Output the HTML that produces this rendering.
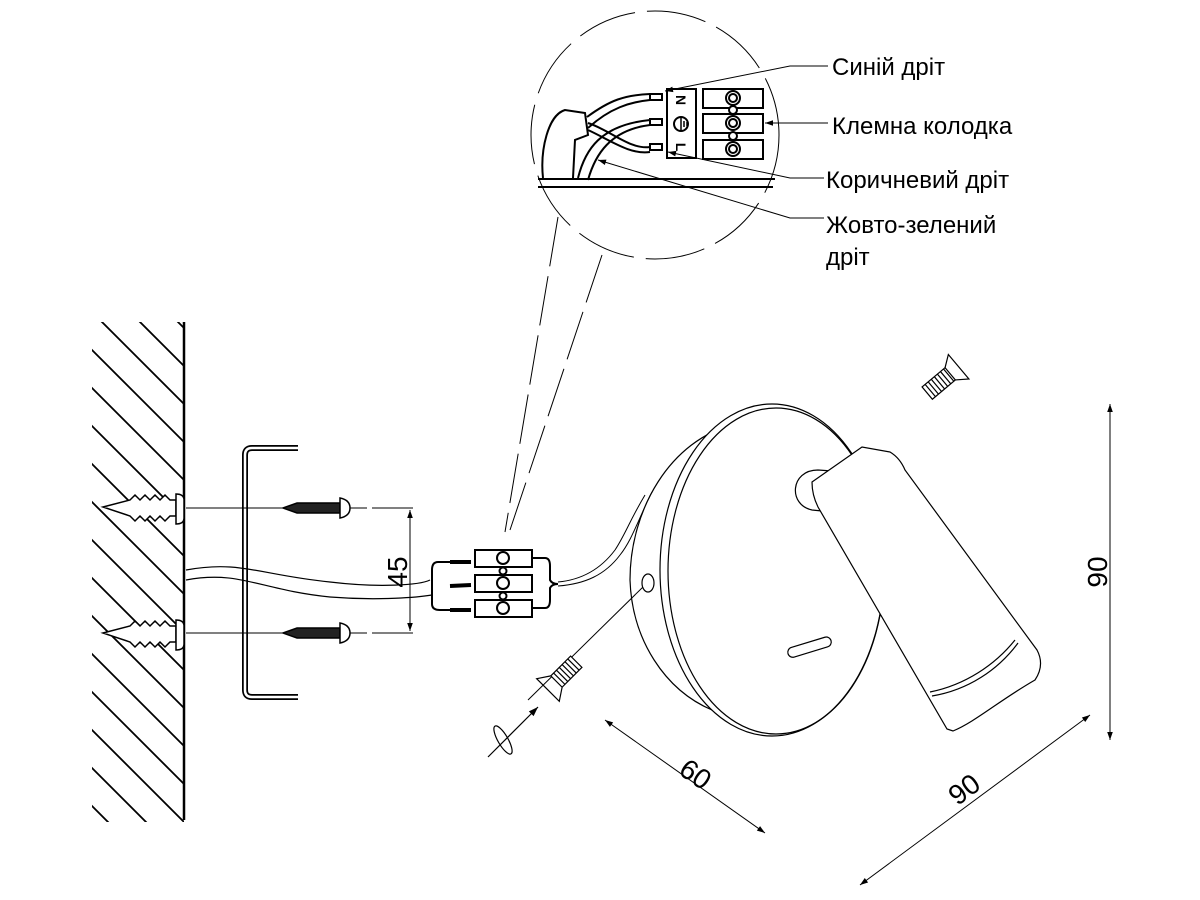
<!DOCTYPE html>
<html><head><meta charset="utf-8"><style>
html,body{margin:0;padding:0;background:#fff;width:1200px;height:900px;overflow:hidden}
svg{display:block}
text{font-family:"Liberation Sans",Arial,sans-serif;fill:#000}
</style></head><body>
<svg width="1200" height="900" viewBox="0 0 1200 900" xmlns="http://www.w3.org/2000/svg">
<defs>
<clipPath id="wall"><rect x="92" y="322" width="92" height="500"/></clipPath>
<marker id="ar" viewBox="0 0 10 10" refX="10" refY="5" markerWidth="10" markerHeight="8" orient="auto-start-reverse"><path d="M0,1.5 L10,5 L0,8.5 Z" fill="#000"/></marker>
</defs>
<g fill="none" stroke="#000">
<g clip-path="url(#wall)" stroke-width="1.8">
<path d="M40,260 L260,480 M40,298 L260,518 M40,336 L260,556 M40,374 L260,594 M40,412 L260,632 M40,450 L260,670 M40,488 L260,708 M40,526 L260,746 M40,564 L260,784 M40,602 L260,822 M40,640 L260,860 M40,678 L260,898 M40,716 L260,936 M40,754 L260,974 M40,222 L260,442 M40,184 L260,404"/>
</g>
<line x1="184" y1="322" x2="184" y2="820" stroke-width="2.5"/>
<g stroke-width="1.5">
<path d="M103,507 L130,500 L135,495 L140,500 L145,495 L150,500 L155,495 L160,500 L165,495 L170,500 L176,500 L176,516 L170,516 L165,521 L160,516 L155,521 L150,516 L145,521 L140,516 L135,521 L130,516 Z" fill="#fff"/>
<path d="M176,494 Q184,494 184,500 L184,518 Q184,524 176,524 Z" fill="#fff"/>
<path d="M103,633 L130,626 L135,621 L140,626 L145,621 L150,626 L155,621 L160,626 L165,621 L170,626 L176,626 L176,642 L170,642 L165,647 L160,642 L155,647 L150,642 L145,647 L140,642 L135,647 L130,642 Z" fill="#fff"/>
<path d="M176,620 Q184,620 184,626 L184,644 Q184,650 176,650 Z" fill="#fff"/>
</g>
<path d="M298,448 L252,448 Q245,448 245,455 L245,690 Q245,697 252,697 L298,697" stroke-width="6"/>
<path d="M298,448 L252,448 Q245,448 245,455 L245,690 Q245,697 252,697 L298,697" stroke="#fff" stroke-width="2.5"/>
<path d="M186,570 C240,560 260,575 330,582 C380,588 420,585 430,580" stroke-width="1.2"/>
<path d="M186,580 C240,570 260,590 330,597 C380,601 420,597 432,595" stroke-width="1.2"/>
<line x1="186" y1="508" x2="367" y2="508" stroke-width="1"/>
<line x1="372" y1="508" x2="413" y2="508" stroke-width="1"/>
<line x1="186" y1="633" x2="367" y2="633" stroke-width="1"/>
<line x1="372" y1="633" x2="413" y2="633" stroke-width="1"/>
<g stroke-width="1.5">
<path d="M283,508 L297,503 L340,503 L340,513 L297,513 Z" fill="#222"/>
<path d="M340,498 Q350,500 350,508 Q350,516 340,518 Z" fill="#fff"/>
<path d="M283,633 L297,628 L340,628 L340,638 L297,638 Z" fill="#222"/>
<path d="M340,623 Q350,625 350,633 Q350,641 340,643 Z" fill="#fff"/>
</g>
<line x1="410" y1="510" x2="410" y2="631" stroke-width="1" marker-start="url(#ar)" marker-end="url(#ar)"/>
<g stroke-width="2">
<rect x="475" y="550" width="57" height="17" fill="#fff"/>
<rect x="475" y="575" width="57" height="17" fill="#fff"/>
<rect x="475" y="600" width="57" height="17" fill="#fff"/>
<circle cx="503" cy="558" r="6" fill="#fff"/><circle cx="503" cy="583" r="6" fill="#fff"/><circle cx="503" cy="608" r="6" fill="#fff"/>
<circle cx="503" cy="571" r="3.5" fill="#fff"/><circle cx="503" cy="596" r="3.5" fill="#fff"/>
<path d="M471,562 L438,562 Q432,562 432,570 L432,604 Q432,610 440,610 L471,610"/>
<line x1="450" y1="562" x2="471" y2="562" stroke-width="4"/>
<line x1="450" y1="586" x2="471" y2="585" stroke-width="4"/>
<line x1="450" y1="610" x2="471" y2="610" stroke-width="4"/>
<path d="M532,558 L545,558 Q550,558 550,566 L550,580 Q552,584 558,584 M532,608 L545,608 Q550,608 550,600 L550,588 Q552,584 558,584"/>
</g>
<path d="M558,582 C580,580 600,570 615,550 C625,535 630,520 645,495 M558,586 C585,584 605,575 620,555 C632,540 638,520 652,492" stroke-width="1"/>
<circle cx="655" cy="135" r="124" stroke-width="1" stroke-dasharray="60 12"/>
<path d="M558,217 L505,532 M602,255 L510,530" stroke-width="1" stroke-dasharray="50 10"/>
<line x1="538" y1="179" x2="775" y2="179" stroke-width="2"/>
<line x1="538" y1="187" x2="773" y2="187" stroke-width="2"/>
<rect x="667" y="89" width="29" height="69" stroke-width="2" fill="#fff"/>
<text x="681" y="100" font-size="14" font-weight="bold" transform="rotate(90 681 100)" text-anchor="middle" dominant-baseline="central" stroke="none">N</text>
<circle cx="681" cy="124" r="7" stroke-width="2"/>
<path d="M681,118 L681,130 M684,121 L684,127 M687,122 L687,126" stroke-width="1.5"/>
<text x="681" y="147" font-size="14" font-weight="bold" transform="rotate(90 681 147)" text-anchor="middle" dominant-baseline="central" stroke="none">L</text>
<g stroke-width="2">
<rect x="703" y="89" width="60" height="19"/><rect x="703" y="114" width="60" height="19"/><rect x="703" y="140" width="60" height="19"/>
<circle cx="733" cy="98" r="7" fill="#fff"/><circle cx="733" cy="123" r="7" fill="#fff"/><circle cx="733" cy="149" r="7" fill="#fff"/>
<circle cx="733" cy="98" r="4"/><circle cx="733" cy="123" r="4"/><circle cx="733" cy="149" r="4"/>
<circle cx="733" cy="110" r="4" fill="#fff"/><circle cx="733" cy="136" r="4" fill="#fff"/>
<rect x="650" y="94" width="12" height="6" fill="#fff"/><rect x="650" y="119" width="12" height="6" fill="#fff"/><rect x="650" y="144" width="12" height="6" fill="#fff"/>
<path d="M543,178 C540,150 548,115 565,110 L585,113 L588,135 L575,140 L573,178"/>
<path d="M587,117 C610,100 625,95 650,94 M588,128 C610,108 630,102 650,100"/>
<path d="M588,123 C610,130 630,150 650,147 M588,130 C610,140 630,155 650,152"/>
<path d="M578,178 C585,150 600,125 650,120 M588,180 C595,155 610,130 650,125"/>
</g>
<g stroke-width="1">
<path d="M828,66 L790,66 L665,91" marker-end="url(#ar)"/>
<path d="M828,123 L765,123" marker-end="url(#ar)"/>
<path d="M824,178 L790,178 L668,152" marker-end="url(#ar)"/>
<path d="M824,218 L790,218 L598,160" marker-end="url(#ar)"/>
</g>
<!-- lamp -->
<g stroke-width="1.2">
<path d="M780,412 C760,414 745,418 735,424 C670,440 630,510 630,580 C632,640 665,690 712,710 L760,720 Z" fill="#fff"/>
<ellipse cx="772" cy="570" rx="112" ry="166" fill="#fff"/>
<ellipse cx="776" cy="571" rx="108" ry="163"/>
<ellipse cx="648" cy="583" rx="6" ry="9"/>
<path d="M643,587 L528,700" stroke-width="1"/>
<rect x="787" y="642" width="45" height="10" rx="5" transform="rotate(-17 810 647)"/>
<path d="M818,470 C790,470 788,505 812,510 M818,470 L832,471 M812,510 L822,511" fill="#fff"/>
<path d="M812,482 L862,447 L890,452 Q900,458 905,470 L1037,650 Q1045,665 1035,680 C1000,700 975,722 953,731 L947,729 L818,507 Q812,495 812,482 Z" fill="#fff"/>
<path d="M930,692 C965,685 995,665 1015,640 M932,696 C968,690 998,670 1018,643"/>
</g>
<g stroke-width="1.2" transform="rotate(-40 940 385)">
<rect x="925" y="375" width="30" height="16" fill="#fff"/>
<path d="M929,375v16 M933,375v16 M937,375v16 M941,375v16 M945,375v16 M949,375v16 M953,375v16"/>
<path d="M955,375 L966,367 L966,399 L955,391"/>
</g>
<g stroke-width="1.2" transform="rotate(-45 560 678)">
<rect x="555" y="670" width="28" height="16" fill="#fff"/>
<path d="M559,670v16 M563,670v16 M567,670v16 M571,670v16 M575,670v16 M579,670v16"/>
<path d="M555,670 L543,662 L543,694 L555,686"/>
</g>
<path d="M488,757 L538,707" stroke-width="1.2" marker-end="url(#ar)"/>
<ellipse cx="503" cy="740" rx="5" ry="16" transform="rotate(-30 503 740)" stroke-width="1.2"/>
<line x1="1110" y1="404" x2="1110" y2="740" stroke-width="1" marker-start="url(#ar)" marker-end="url(#ar)"/>
<line x1="605" y1="720" x2="765" y2="833" stroke-width="1" marker-start="url(#ar)" marker-end="url(#ar)"/>
<line x1="860" y1="885" x2="1090" y2="715" stroke-width="1" marker-start="url(#ar)" marker-end="url(#ar)"/>
</g>
<g font-size="24">
<text x="832" y="75">Синій дріт</text>
<text x="832" y="134">Клемна колодка</text>
<text x="826" y="188">Коричневий дріт</text>
<text x="826" y="233">Жовто-зелений</text>
<text x="826" y="265">дріт</text>
</g>
<g font-size="28">
<text transform="translate(407,572) rotate(-90)" text-anchor="middle">45</text>
<text transform="translate(1107,572) rotate(-90)" text-anchor="middle">90</text>
<text transform="translate(690,782) rotate(35)" text-anchor="middle">60</text>
<text transform="translate(970,797) rotate(-37)" text-anchor="middle">90</text>
</g>
</svg>
</body></html>
